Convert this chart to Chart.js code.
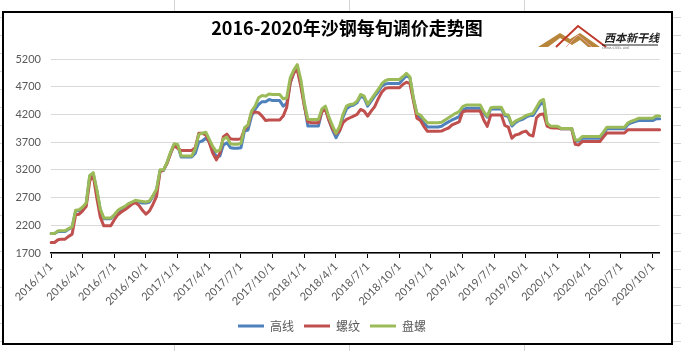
<!DOCTYPE html>
<html>
<head>
<meta charset="utf-8">
<script src="https://cdn.jsdelivr.net/npm/chart.js@4.4.1/dist/chart.umd.min.js"></script>
<style>
    html, body { margin: 0; padding: 0; }
    body {
        width: 681px; height: 351px; overflow: hidden; position: relative;
        background-color: #fff;
        background-image:
            repeating-linear-gradient(to right, transparent 0, transparent 174px, #d4d4d4 174px, #d4d4d4 175px, transparent 175px, transparent 165px),
            repeating-linear-gradient(to bottom, transparent 0, transparent 17px, #d4d4d4 17px, #d4d4d4 18px);
    }
    #frame {
        position: absolute; left: 2px; top: 11px; width: 667px; height: 330px;
        border: 2px solid #000; background: #fff;
    }
    #title {
        position: absolute; left: 0; top: 1px; width: 686px; text-align: center;
        font: bold 18px "Noto Sans CJK SC", sans-serif; color: #000;
    }
    #logo { position: absolute; left: 532px; top: 7px; }
    canvas { position: absolute; left: 0; top: 0; }
</style>
</head>
<body>
<div id="frame">
    <canvas id="grafico" width="667" height="329"></canvas>
    <div id="title">2016-2020年沙钢每旬调价走势图</div>
    <svg id="logo" width="125" height="30" viewBox="0 0 125 30">
        <polygon points="2,27 24,13 34,19 44,13 64,27 52,27 44,20 36,25 24,18 12,27" fill="#b8863b"/>
        <polyline points="20,27 42,6 70,27" fill="none" stroke="#c0392b" stroke-width="2"/>
        <polyline points="30,27 42,15 56,27" fill="none" stroke="#e8a0a0" stroke-width="1"/>
        <text x="68" y="22" font-family="Noto Sans CJK SC" font-size="11" font-weight="bold" font-style="italic" fill="#222">西本新干线</text>
        <line x1="66" y1="25" x2="122" y2="25" stroke="#222" stroke-width="1"/>
        <text x="66" y="29" font-family="DejaVu Sans" font-size="3" fill="#666">CHINA STEEL LINE</text>
    </svg>
</div>
<script>
document.addEventListener("DOMContentLoaded", function () {
    // 旬 dates: 1st, 11th, 21st of each month, 2016/1/1 .. 2020/10/21
    const years = [2016, 2017, 2018, 2019, 2020];
    const days = [1, 11, 21];
    const fechas = [];
    years.forEach(y => {
        for (let m = 1; m <= 12; m++) {
            days.forEach(d => { if (fechas.length < 174) fechas.push(`${y}/${m}/${d}`); });
        }
    });

    const yTicks = [1700, 2200, 2700, 3200, 3700, 4200, 4700, 5200];

    // 高线
    const gaoxian = [
        2050, 2050, 2090, 2090, 2090, 2130, 2160, 2460, 2460,
        2510, 2580, 3080, 3130, 2830, 2480, 2320, 2320, 2320,
        2380, 2450, 2490, 2520, 2570, 2600, 2620, 2620, 2600,
        2600, 2620, 2720, 2830, 3180, 3190, 3330, 3500, 3650,
        3640, 3430, 3430, 3430, 3430, 3500, 3700, 3720, 3770,
        3710, 3550, 3440, 3450, 3650, 3690, 3600, 3590, 3590,
        3600, 3900, 3920, 4170, 4290, 4380, 4430, 4430, 4470,
        4450, 4450, 4450, 4350, 4400, 4770, 4950, 5050, 4760,
        4380, 3990, 3990, 3990, 3990, 4260, 4320, 4100, 3920,
        3780, 3900, 4150, 4300, 4350, 4370, 4410, 4530, 4500,
        4350, 4440, 4530, 4610, 4710, 4750, 4760, 4760, 4760,
        4760, 4830, 4900, 4860, 4480, 4200, 4140, 4040, 3975,
        3975, 3975, 3975, 3985, 4030, 4065, 4100, 4130, 4160,
        4280, 4310, 4310, 4310, 4310, 4310, 4220, 4150, 4300,
        4300, 4300, 4300, 4180, 4160, 3990, 4050, 4090, 4110,
        4150, 4180, 4180, 4280, 4380, 4420, 4020, 3980, 3970,
        3970, 3940, 3940, 3940, 3940, 3720, 3720, 3770, 3770,
        3770, 3770, 3770, 3770, 3850, 3940, 3940, 3940, 3940,
        3940, 3940, 4020, 4050, 4070, 4090, 4090, 4090, 4090,
        4090, 4120, 4120
    ];
    // 螺纹
    const luowen = [
        1890, 1890, 1940, 1950, 1950, 2000, 2040, 2390, 2400,
        2460, 2540, 3000, 3100, 2700, 2350, 2190, 2190, 2190,
        2300, 2390, 2440, 2480, 2530, 2580, 2610, 2560, 2470,
        2400, 2460, 2580, 2720, 3170, 3200, 3320, 3500, 3640,
        3590, 3550, 3550, 3550, 3550, 3600, 3860, 3860, 3830,
        3690, 3500, 3380, 3500, 3800, 3845, 3760, 3750, 3750,
        3760, 3930, 4000, 4230, 4245, 4233, 4170, 4090, 4100,
        4100, 4100, 4100, 4170, 4330, 4770, 4950, 5009, 4710,
        4352, 4066, 4050, 4050, 4050, 4250, 4290, 4090, 3940,
        3850, 3900, 4050, 4110, 4140, 4170, 4200, 4290, 4260,
        4170, 4260, 4340, 4480, 4600, 4670, 4680, 4680, 4680,
        4680, 4740, 4780, 4760, 4450, 4130, 4090, 3980, 3895,
        3895, 3895, 3895, 3900, 3930, 3955, 4010, 4040, 4065,
        4250, 4260, 4260, 4260, 4260, 4260, 4100, 3985, 4190,
        4190, 4190, 4190, 4000, 3970, 3770, 3830, 3845, 3880,
        3900, 3830, 3810, 4140, 4200, 4210, 3990, 3960, 3955,
        3955, 3940, 3940, 3940, 3940, 3660, 3650, 3710, 3710,
        3710, 3710, 3710, 3710, 3790, 3865, 3865, 3865, 3865,
        3865, 3865, 3925, 3925, 3925, 3925, 3925, 3925, 3925,
        3925, 3925, 3925
    ];
    // 盘螺
    const panluo = [
        2050, 2050, 2100, 2100, 2100, 2140, 2170, 2470, 2480,
        2530, 2600, 3100, 3150, 2850, 2500, 2330, 2330, 2330,
        2390, 2470, 2510, 2540, 2590, 2620, 2650, 2640, 2630,
        2620, 2640, 2740, 2850, 3200, 3200, 3340, 3520, 3670,
        3660, 3450, 3450, 3450, 3450, 3580, 3840, 3860, 3880,
        3750, 3620, 3530, 3560, 3760, 3790, 3670, 3660, 3660,
        3680, 3960, 4010, 4260, 4350, 4500, 4540, 4530, 4570,
        4560, 4560, 4560, 4480, 4500, 4860, 5000, 5098, 4830,
        4412, 4113, 4110, 4110, 4110, 4300, 4350, 4150, 4000,
        3860, 3980, 4200, 4350, 4380, 4390, 4440, 4560, 4530,
        4380, 4470, 4560, 4650, 4750, 4810, 4830, 4830, 4830,
        4830, 4880, 4940, 4880, 4500, 4220, 4190, 4110, 4050,
        4050, 4050, 4050, 4060, 4100, 4140, 4180, 4220, 4250,
        4340, 4370, 4370, 4370, 4370, 4370, 4250, 4170, 4320,
        4330, 4330, 4330, 4200, 4190, 4020, 4080, 4110, 4140,
        4180, 4200, 4220, 4330, 4440, 4470, 4040, 3990, 3985,
        3985, 3945, 3945, 3945, 3945, 3740, 3740, 3800, 3800,
        3800, 3800, 3800, 3800, 3880, 3970, 3970, 3970, 3970,
        3970, 3970, 4050, 4080, 4100, 4130, 4130, 4130, 4130,
        4130, 4170, 4170
    ];

    const gris = '#595959';
    const fuente = '"Lato", "Liberation Sans", sans-serif';

    const ctx = document.getElementById('grafico').getContext('2d');
    new Chart(ctx, {
        type: 'line',
        data: {
            labels: fechas,
            datasets: [
                { label: '高线', data: gaoxian, borderColor: '#4f81bd', backgroundColor: '#4f81bd', borderWidth: 3, order: 2 },
                { label: '螺纹', data: luowen, borderColor: '#c0504d', backgroundColor: '#c0504d', borderWidth: 3, order: 1 },
                { label: '盘螺', data: panluo, borderColor: '#9bbb59', backgroundColor: '#9bbb59', borderWidth: 3, order: 0 },
            ],
        },
        options: {
            responsive: false,
            animation: false,
            layout: { padding: { top: 46, right: 11, left: 0, bottom: 0 } },
            elements: {
                line: { tension: 0, borderJoinStyle: 'round', borderCapStyle: 'round' },
                point: { radius: 0 },
            },
            scales: {
                x: {
                    type: 'category',
                    offset: false,
                    afterFit: s => { s.height = 57; },
                    grid: {
                        drawOnChartArea: false,
                        drawTicks: true,
                        tickLength: 5,
                        color: c => (c.index % 9 === 0 ? '#000' : 'rgba(0,0,0,0)'),
                    },
                    border: { display: true, color: '#000', width: 1.5 },
                    ticks: {
                        autoSkip: false,
                        minRotation: 45,
                        maxRotation: 45,
                        padding: 2,
                        color: gris,
                        font: { family: fuente, size: 11 },
                        callback: function (value, index) {
                            return index % 9 === 0 ? fechas[index] : '';
                        },
                    },
                },
                y: {
                    min: yTicks[0],
                    max: yTicks[yTicks.length - 1],
                    afterFit: s => { s.width = 47; },
                    afterBuildTicks: s => { s.ticks = yTicks.map(v => ({ value: v })); },
                    grid: { color: '#d9d9d9', lineWidth: 1, drawTicks: false },
                    border: { display: false },
                    ticks: {
                        padding: 10,
                        color: gris,
                        font: { family: fuente, size: 11 },
                        callback: value => value.toString(),
                    },
                },
            },
            plugins: {
                legend: {
                    display: true,
                    position: 'bottom',
                    labels: {
                        usePointStyle: true,
                        pointStyle: 'line',
                        pointStyleWidth: 26,
                        padding: 10,
                        color: gris,
                        font: { family: '"Noto Sans CJK SC", sans-serif', size: 12 },
                        sort: (a, b) => a.datasetIndex - b.datasetIndex,
                    },
                },
                tooltip: { enabled: false },
            },
        },
    });
});
</script>
</body>
</html>
